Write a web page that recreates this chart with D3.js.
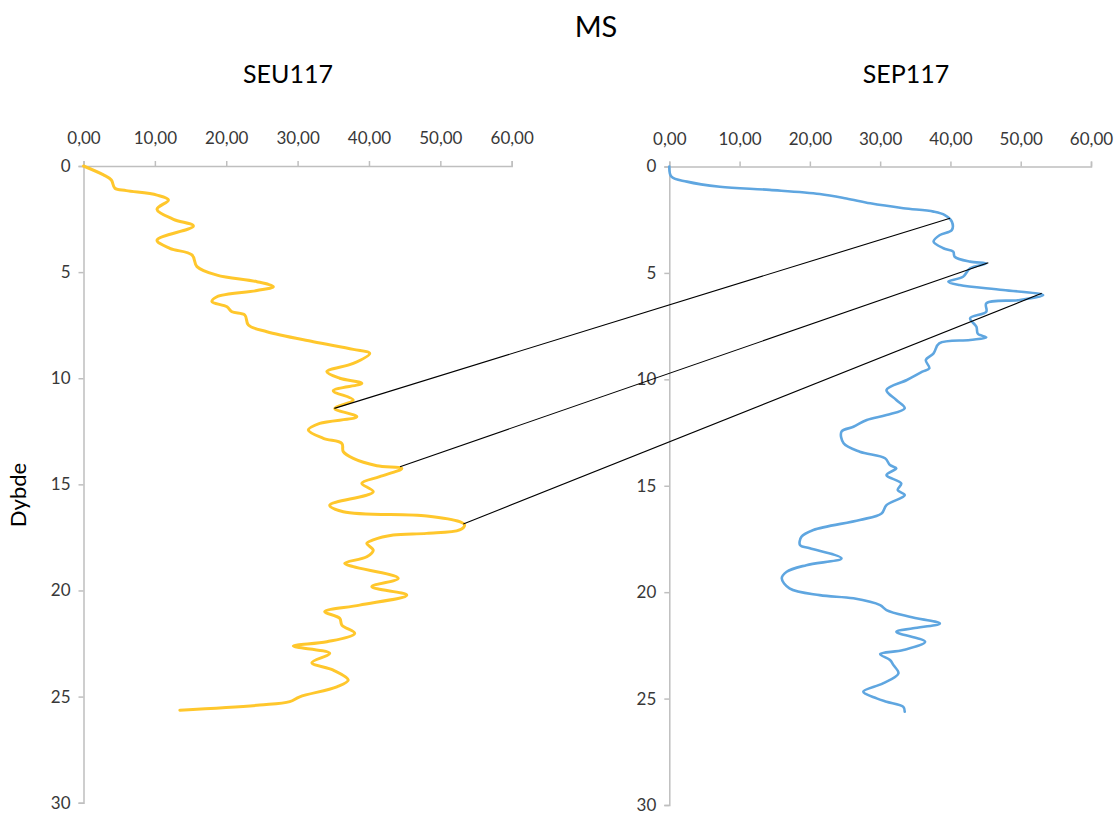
<!DOCTYPE html>
<html>
<head>
<meta charset="utf-8">
<script src="https://cdn.jsdelivr.net/npm/d3@7"></script>
<style>
  html, body { margin: 0; padding: 0; background: #fff; }
  svg { display: block; font-family: Lato, "Open Sans", sans-serif; }
  .axis path, .axis line { stroke: #bfbfbf; stroke-width: 1.5; }
  .axis text { fill: #383838; font-size: 17px; font-family: Lato, sans-serif; }
</style>
</head>
<body>
<svg id="chart" width="1117" height="817"></svg>
<script>
// Core SEU117: depth (m) and magnetic susceptibility
const seuDepth = [0, 0.42, 0.66, 1.05, 1.16, 1.37, 1.6, 2.04, 2.51, 2.83, 3.49, 3.88, 4.19, 4.74, 5.14, 5.45, 5.69, 5.87, 6.16, 6.39, 6.63, 6.87, 7.02, 7.49, 7.81, 8.28, 8.64, 8.83, 9.30, 9.69, 10.0, 10.24, 10.59, 11.03, 11.42, 11.81, 12.13, 12.44, 12.83, 13.07, 13.46, 13.78, 14.12, 14.25, 14.64, 14.95, 15.35, 15.98, 16.29, 16.49, 16.76, 16.92, 17.15, 17.31, 17.39, 17.62, 17.78, 18.1, 18.41, 18.72, 18.88, 19.43, 19.82, 20.22, 20.69, 21.0, 21.31, 21.63, 22.02, 22.42, 22.62, 22.96, 23.4, 23.75, 24.22, 24.54, 25.01, 25.24, 25.4, 25.64];
const seuMS = [0, 2.8, 3.9, 4.4, 6.0, 10.3, 11.9, 10.3, 12.6, 15.4, 10.3, 12.1, 15.2, 15.9, 18.7, 24.3, 26.6, 24.3, 18.7, 18.0, 20.1, 20.8, 22.6, 23.1, 25.7, 32.2, 37.8, 40.1, 37.8, 34.1, 35.9, 39.0, 35.0, 37.8, 35.2, 38.3, 33.1, 31.5, 33.6, 36.2, 36.4, 37.8, 41.1, 44.6, 41.5, 39.0, 40.6, 34.5, 36.4, 48.1, 52.7, 53.4, 52.7, 48.1, 43.4, 40.6, 39.7, 40.6, 39.7, 36.6, 37.8, 44.1, 40.4, 45.3, 38.7, 33.8, 35.9, 36.2, 38.0, 34.1, 29.4, 34.5, 32.0, 35.0, 37.1, 35.5, 30.3, 28.9, 24.7, 13.5];

// Core SEP117: depth (m) and magnetic susceptibility
const sepDepth = [0, 0.48, 0.71, 0.95, 1.1, 1.29, 1.5, 1.73, 1.96, 2.12, 2.28, 2.59, 2.98, 3.22, 3.53, 3.84, 4.0, 4.24, 4.47, 4.55, 4.78, 5.18, 5.41, 5.57, 5.8, 6.04, 6.27, 6.43, 6.82, 7.13, 7.53, 7.86, 8.03, 8.15, 8.31, 8.78, 9.09, 9.48, 9.64, 10.03, 10.5, 10.97, 11.36, 11.68, 11.91, 12.23, 12.46, 13.0, 13.4, 13.71, 14.03, 14.18, 14.5, 14.89, 15.2, 15.44, 15.91, 16.3, 16.61, 17.08, 17.4, 17.79, 17.94, 18.41, 18.73, 19.04, 19.35, 19.82, 20.14, 20.29, 20.61, 20.84, 21.16, 21.47, 21.7, 21.86, 22.33, 22.72, 22.91, 23.19, 23.43, 23.82, 24.29, 24.68, 24.99, 25.15, 25.39, 25.62];
const sepMS = [0, 0.3, 2.5, 7.2, 14.3, 21.4, 25.2, 28.6, 33.3, 37.6, 39.2, 40.2, 40.2, 38.5, 37.6, 39.0, 40.4, 40.6, 42.8, 45.1, 42.8, 41.8, 39.7, 41.3, 47.5, 53.2, 49.9, 45.1, 45.1, 42.8, 43.7, 43.9, 45.1, 42.8, 38.4, 37.6, 36.5, 37.0, 36.0, 33.8, 30.9, 32.3, 33.5, 30.9, 28.1, 26.2, 24.5, 24.8, 27.1, 30.7, 31.4, 32.3, 30.9, 33.0, 32.5, 33.5, 30.9, 30.2, 27.1, 20.5, 18.8, 18.6, 20.0, 24.5, 19.5, 16.7, 16.0, 17.1, 21.4, 26.2, 30.0, 30.9, 34.2, 38.5, 34.7, 32.3, 36.4, 33.3, 30.0, 31.4, 31.9, 32.6, 30.4, 27.6, 29.5, 30.9, 33.3, 33.5];

// Correlation ties between the two cores (matching peaks)
const tieSeuDepth = [11.42, 14.17, 16.87];
const tieSeuMS = [35.15, 44.35, 53.22];
const tieSepDepth = [2.43, 4.52, 5.96];
const tieSepMS = [39.94, 45.39, 52.99];

// Axis ticks
const msTicks = [0, 10, 20, 30, 40, 50, 60];
const depthTicks = [0, 5, 10, 15, 20, 25, 30];

const chartTitle = "MS";
const coreNames = ["SEU117", "SEP117"];
const depthLabel = "Dybde";

const svg = d3.select("#chart");
svg.append("rect").attr("width", 1117).attr("height", 817).attr("fill", "#fff");

const fmt = d => d3.format(".2f")(d).replace(".", ",");

const panels = [
  { name: coreNames[0], x: d3.scaleLinear().domain([0, 60]).range([83.5, 511.7]),
    y: d3.scaleLinear().domain([0, 30]).range([166, 802.7]),
    depth: seuDepth, ms: seuMS, color: "#FFC72C", width: 3, titleX: 288 },
  { name: coreNames[1], x: d3.scaleLinear().domain([0, 60]).range([669.3, 1091]),
    y: d3.scaleLinear().domain([0, 30]).range([166.5, 805]),
    depth: sepDepth, ms: sepMS, color: "#5FA6E0", width: 2.6, titleX: 906 }
];

panels.forEach(p => {
  const g = svg.append("g");
  const xAxis = d3.axisTop(p.x).tickValues(msTicks).tickFormat(fmt).tickSize(5).tickPadding(17).tickSizeOuter(5);
  g.append("g").attr("class", "axis").attr("transform", `translate(0,${p.y(0)})`).call(xAxis);
  const yAxis = d3.axisLeft(p.y).tickValues(depthTicks).tickFormat(d3.format("d")).tickSize(5).tickPadding(8).tickSizeOuter(5);
  g.append("g").attr("class", "axis").attr("transform", `translate(${p.x(0)},0)`).call(yAxis);

  const pts = p.depth.map((d, i) => [p.ms[i], d]);
  const line = d3.line().x(d => p.x(d[0])).y(d => p.y(d[1])).curve(d3.curveCatmullRom.alpha(0.5));
  g.append("path").datum(pts).attr("d", line).attr("fill", "none")
    .attr("stroke", p.color).attr("stroke-width", p.width)
    .attr("stroke-linejoin", "round").attr("stroke-linecap", "round");

  svg.append("text").attr("x", p.titleX).attr("y", 83).attr("text-anchor", "middle")
    .attr("font-size", 25).attr("fill", "#000").text(p.name);
});

// Correlation lines
const L = panels[0], R = panels[1];
svg.append("g").selectAll("line").data(tieSeuDepth.map((d, i) => i)).join("line")
  .attr("x1", i => L.x(tieSeuMS[i])).attr("y1", i => L.y(tieSeuDepth[i]))
  .attr("x2", i => R.x(tieSepMS[i])).attr("y2", i => R.y(tieSepDepth[i]))
  .attr("stroke", "#000").attr("stroke-width", 1.1);

svg.append("text").attr("x", 596).attr("y", 37).attr("text-anchor", "middle")
  .attr("font-size", 29).attr("fill", "#000").text(chartTitle);

svg.append("text").attr("transform", "translate(26,495) rotate(-90)")
  .attr("text-anchor", "middle").attr("font-size", 22).attr("fill", "#000").text(depthLabel);
</script>
</body>
</html>
